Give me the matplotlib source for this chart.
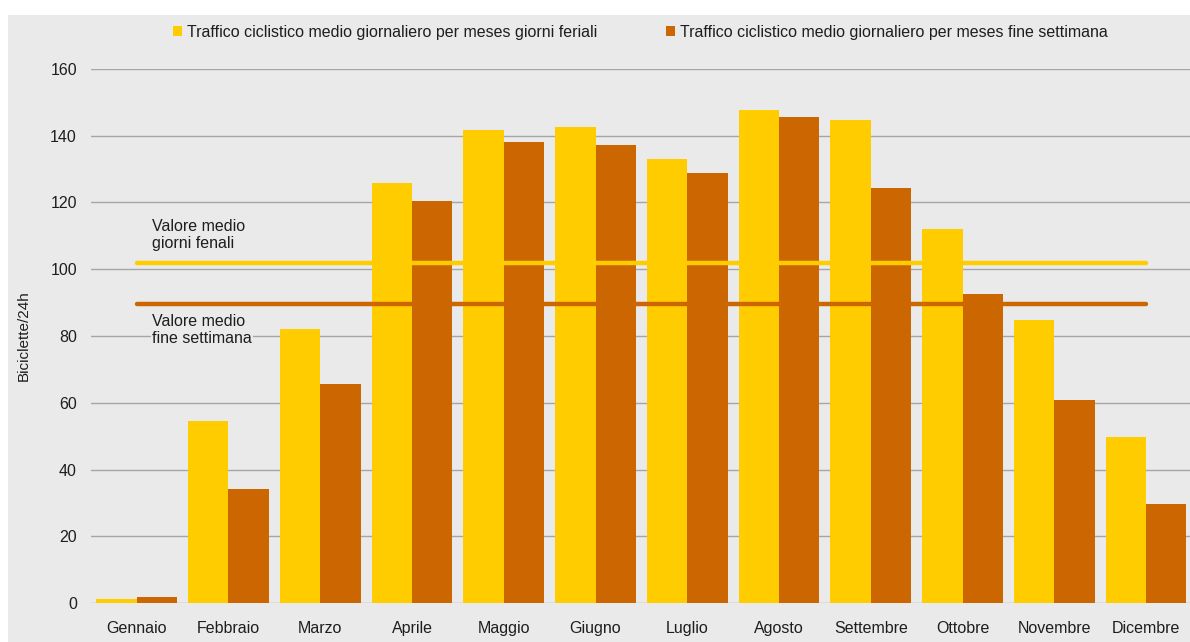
import matplotlib.pyplot as plt
import numpy as np
from matplotlib.patches import Rectangle

plt.rcParams['font.family'] = ['Liberation Sans', 'DejaVu Sans']

mesi = ['Gennaio', 'Febbraio', 'Marzo', 'Aprile', 'Maggio', 'Giugno',
        'Luglio', 'Agosto', 'Settembre', 'Ottobre', 'Novembre', 'Dicembre']
feriali = [1.2, 54.5, 82.1, 125.8, 141.7, 142.6, 133.0, 147.7, 144.7, 112.1, 84.8, 49.7]
fine_sett = [1.8, 34.2, 65.6, 120.4, 138.1, 137.2, 128.8, 145.6, 124.3, 92.6, 60.8, 29.7]
media_feriali = 101.9
media_fine_sett = 89.6

giallo = '#FFCC00'
arancio = '#CC6600'
sfondo = '#EAEAEA'
testo = '#1E1E1E'
fs = 11.5

fig = plt.figure(figsize=(11.9, 6.42), dpi=100)
fig.patch.set_facecolor('white')
# gray panel behind the chart
fig.patches.append(Rectangle((8 / 1190, 0), 1, (642 - 15) / 642, transform=fig.transFigure,
                             facecolor=sfondo, edgecolor='none', zorder=-1))

ax = fig.add_axes([90.8 / 1190, 39 / 642, (1192 - 90.8) / 1190, 534 / 642])
ax.set_facecolor(sfondo)
ax.patch.set_alpha(0)

x = np.arange(len(mesi))
w = 0.44
ax.bar(x - w / 2, feriali, w, color=giallo, zorder=3,
       label='Traffico ciclistico medio giornaliero per meses giorni feriali')
ax.bar(x + w / 2, fine_sett, w, color=arancio, zorder=3,
       label='Traffico ciclistico medio giornaliero per meses fine settimana')

# average lines
ax.plot([0, 11], [media_feriali, media_feriali], color=giallo, lw=3.2,
        solid_capstyle='round', zorder=4)
ax.plot([0, 11], [media_fine_sett, media_fine_sett], color=arancio, lw=3.2,
        solid_capstyle='round', zorder=4)
ax.text(0.17, 110.3, 'Valore medio\ngiorni fenali', fontsize=fs, color=testo,
        va='center', ha='left', linespacing=1.2, zorder=5)
ax.text(0.17, 81.8, 'Valore medio\nfine settimana', fontsize=fs, color=testo,
        va='center', ha='left', linespacing=1.2, zorder=5,
        bbox=dict(facecolor=sfondo, edgecolor='none', pad=1))

ax.set_xlim(-0.5, 11.5)
ax.set_ylim(0, 160)
ax.set_yticks(range(0, 161, 20))
ax.set_xticks(x)
ax.set_xticklabels(mesi)
ax.yaxis.grid(True, color='#A6A6A6', lw=1, zorder=0)
ax.set_axisbelow(True)
for s in ax.spines.values():
    s.set_visible(False)
ax.tick_params(length=0, labelsize=fs, colors=testo)
ax.tick_params(axis='y', pad=10)
ax.tick_params(axis='x', pad=13)
ax.set_ylabel('Biciclette/24h', fontsize=fs - 0.5, color=testo, labelpad=14)

ax.legend(loc='center', bbox_to_anchor=(0.538, (642 - 32) / 642), bbox_transform=fig.transFigure,
          ncol=2, frameon=False, fontsize=fs, handlelength=0.6, handleheight=0.6,
          handletextpad=0.3, columnspacing=4.3, labelcolor=testo)

fig.savefig('out.png', dpi=100)
